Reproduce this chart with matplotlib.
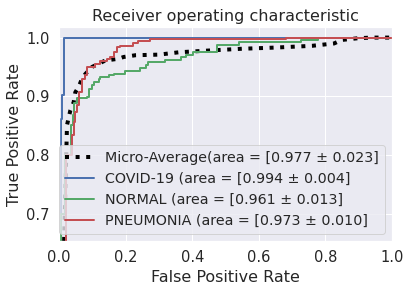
import numpy as np
import matplotlib
matplotlib.use('Agg')
import matplotlib.pyplot as plt
import seaborn as sns

#=====================
# Data
#=====================
# micro average (dotted black)
fpr_micro = [0.013, 0.024, 0.034, 0.044, 0.049, 0.059, 0.069, 0.079, 0.099, 0.139, 0.179, 0.194,
             0.23, 0.30, 0.36, 0.45, 0.55, 0.65, 0.76, 0.826, 0.849, 0.90, 0.94, 1.0]
tpr_micro = [0.60, 0.851, 0.876, 0.890, 0.907, 0.916, 0.930, 0.938, 0.950, 0.961, 0.964, 0.967,
             0.970, 0.971, 0.975, 0.978, 0.981, 0.983, 0.986, 0.990, 0.996, 0.999, 1.0, 1.0]

# COVID-19
fpr_covid = [0.006, 0.006, 0.009, 0.015, 1.0]
tpr_covid = [0.60, 0.862, 0.902, 1.0, 1.0]

# NORMAL
fpr_normal = [0.005, 0.005, 0.017, 0.037, 0.041, 0.044, 0.054, 0.084, 0.089, 0.099, 0.104, 0.119,
              0.124, 0.149, 0.164, 0.198, 0.243, 0.261, 0.266, 0.318, 0.365, 0.381, 0.401, 0.475,
              0.541, 0.727, 0.778, 1.0]
tpr_normal = [0.60, 0.70, 0.80, 0.851, 0.868, 0.888, 0.897, 0.899, 0.913, 0.919, 0.924, 0.930,
              0.933, 0.936, 0.938, 0.944, 0.949, 0.954, 0.958, 0.962, 0.967, 0.971, 0.975, 0.988,
              0.993, 0.9966, 1.0, 1.0]

# PNEUMONIA
fpr_pneu = [0.020, 0.020, 0.039, 0.044, 0.049, 0.054, 0.059, 0.069, 0.079, 0.084, 0.104, 0.109,
            0.124, 0.144, 0.154, 0.164, 0.174, 0.184, 0.223, 0.238, 0.273, 0.682, 1.0]
tpr_pneu = [0.60, 0.80, 0.834, 0.856, 0.873, 0.885, 0.907, 0.930, 0.936, 0.950, 0.950, 0.955,
            0.961, 0.964, 0.967, 0.975, 0.984, 0.986, 0.990, 0.994, 0.997, 1.0, 1.0]

labels = ['Micro-Average(area = [0.977 \u00b1 0.023]',
          'COVID-19 (area = [0.994 \u00b1 0.004]',
          'NORMAL (area = [0.961 \u00b1 0.013]',
          'PNEUMONIA (area = [0.973 \u00b1 0.010]']

#======================
# 	PLOT
#======================
sns.set(font_scale=1.33)
DPI = 72
fig = plt.figure(figsize=(411 / DPI, 292 / DPI), dpi=DPI)
ax = fig.add_subplot(111)
fig.subplots_adjust(left=59 / 411, right=392 / 411, top=1 - 27 / 292, bottom=1 - 241 / 292)

pal = sns.color_palette('deep')
ax.plot(fpr_micro, tpr_micro, color='black', linestyle=':', linewidth=4, label=labels[0])
ax.plot(fpr_covid, tpr_covid, color=pal[0], lw=2, drawstyle='steps-post', label=labels[1])
ax.plot(fpr_normal, tpr_normal, color=pal[2], lw=2, drawstyle='steps-post', label=labels[2])
ax.plot(fpr_pneu, tpr_pneu, color=pal[3], lw=2, drawstyle='steps-post', label=labels[3])

ax.set_xlim(0.0, 1.0)
ax.set_ylim(0.654, 1.018)
ax.set_yticks([0.7, 0.8, 0.9, 1.0])
ax.set_xlabel('False Positive Rate')
ax.set_ylabel('True Positive Rate')
ax.set_title('Receiver operating characteristic')
ax.legend(loc='lower right', fontsize=14.3)

plt.savefig('out.png', dpi=DPI)
